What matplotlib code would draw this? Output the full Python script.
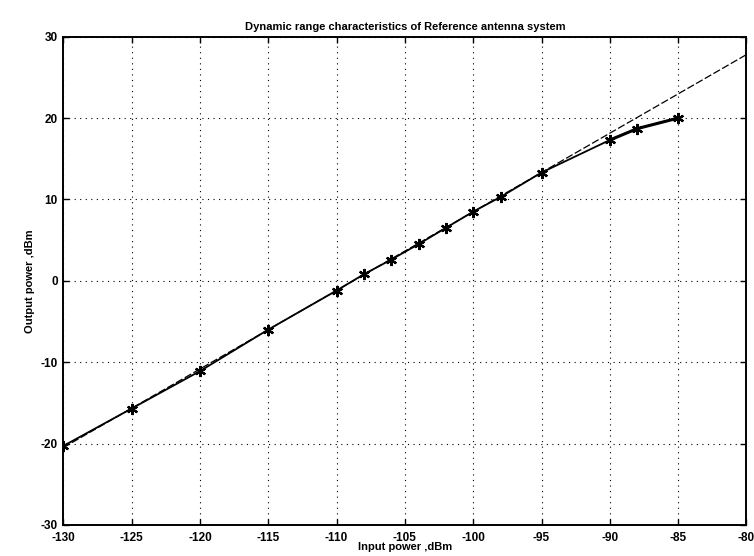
import matplotlib
matplotlib.use("Agg")
import matplotlib.pyplot as plt

# Measured data (asterisks)
input_dbm = [-130, -125, -120, -115, -110, -108, -106, -104, -102, -100, -98, -95, -90, -88, -85]
output_dbm = [-20.3, -15.7, -11.1, -6.0, -1.2, 0.8, 2.6, 4.5, 6.5, 8.5, 10.3, 13.3, 17.3, 18.7, 20.0]

# Linear reference line
line_x = [-130, -80]
line_y = [-20.5, 27.8]

xticks = [-130, -125, -120, -115, -110, -105, -100, -95, -90, -85, -80]
yticks = [-30, -20, -10, 0, 10, 20, 30]

plt.rcParams['font.family'] = ['Liberation Sans', 'DejaVu Sans']
fig = plt.figure(figsize=(7.54, 5.56), dpi=100)
ax = fig.add_axes([0.084, 0.056, 0.906, 0.878])

ax.plot(line_x, line_y, color='black', linewidth=0.9, linestyle=(0, (6, 2)))
ax.plot(input_dbm, output_dbm, color='black', linewidth=1.3, marker=(6, 2, 0),
        markersize=8, markeredgewidth=1.6)
# thicker upper segment
ax.plot(input_dbm[-3:], output_dbm[-3:], color='black', linewidth=2.2)

ax.set_xlim(-130, -80)
ax.set_ylim(-30, 30)
ax.set_xticks(xticks)
ax.set_yticks(yticks)
ax.set_xticklabels([str(v) for v in xticks], fontsize=8.5, fontweight='bold')
ax.set_yticklabels([str(v) for v in yticks], fontsize=8.5, fontweight='bold')
ax.tick_params(direction='in', top=True, right=True, length=4, width=1.0)
ax.tick_params(axis='x', pad=5)
ax.tick_params(axis='y', pad=4)
ax.grid(True, color='black', linestyle=(0, (1, 4)), linewidth=0.8)
for s in ax.spines.values():
    s.set_linewidth(1.4)

ax.set_title('Dynamic range characteristics of Reference antenna system',
             fontsize=8, fontweight='bold', pad=5)
ax.set_xlabel('Input power ,dBm', fontsize=8, fontweight='bold', labelpad=-1)
ax.set_ylabel('Output power ,dBm', fontsize=8, fontweight='bold', labelpad=4)

fig.savefig('out.png', dpi=100)
